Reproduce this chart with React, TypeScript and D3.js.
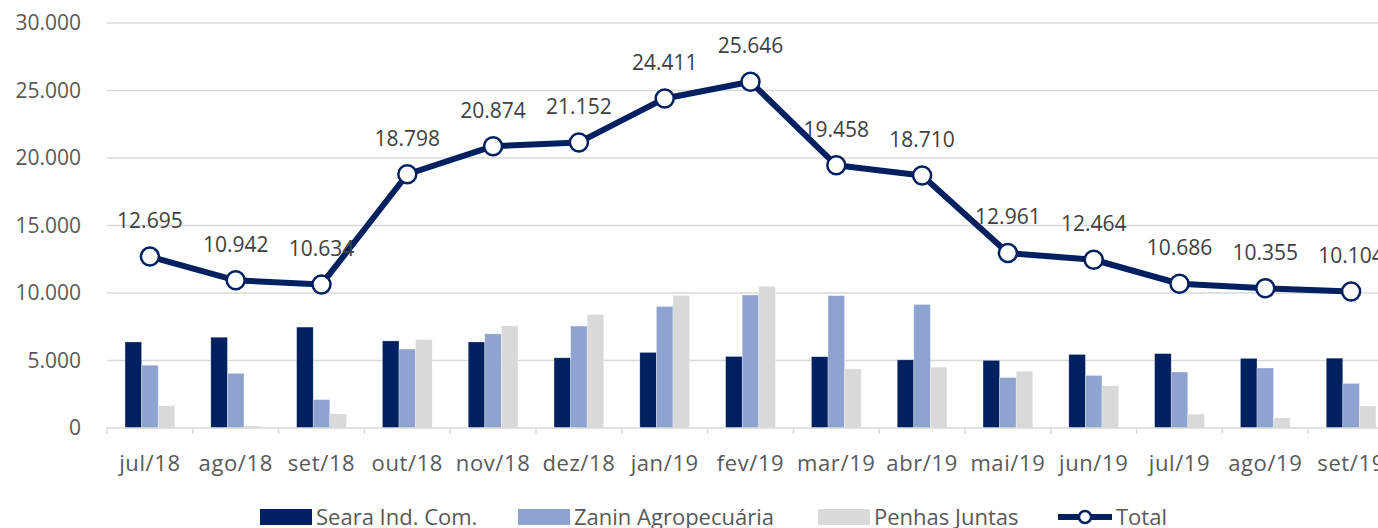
import React, { useRef, useEffect } from 'react'
import * as d3 from 'd3'

const months = ['jul/18', 'ago/18', 'set/18', 'out/18', 'nov/18', 'dez/18', 'jan/19', 'fev/19', 'mar/19', 'abr/19', 'mai/19', 'jun/19', 'jul/19', 'ago/19', 'set/19']
const seara = [6375, 6725, 7475, 6450, 6375, 5200, 5600, 5300, 5280, 5050, 5010, 5450, 5510, 5160, 5175]
const zanin = [4650, 4050, 2100, 5850, 6975, 7550, 9000, 9850, 9800, 9150, 3740, 3890, 4150, 4445, 3300]
const penhas = [1650, 150, 1050, 6550, 7575, 8400, 9811, 10496, 4378, 4510, 4211, 3124, 1026, 750, 1625]
const total = [12695, 10942, 10634, 18798, 20874, 21152, 24411, 25646, 19458, 18710, 12961, 12464, 10686, 10355, 10104]
const yTicks = [0, 5000, 10000, 15000, 20000, 25000, 30000]

const seriesNames = ['Seara Ind. Com.', 'Zanin Agropecuária', 'Penhas Juntas']
const colors = ['#00205F', '#8FA3D0', '#D9D9D9']
const lineColor = '#002060'
const textColor = '#595959'
const font = '"Open Sans", "Noto Sans", sans-serif'

export default function App() {
  const svgRef = useRef<SVGSVGElement>(null)

  useEffect(() => {
    if (!svgRef.current) return
    const svg = d3.select(svgRef.current)
    svg.selectAll('*').remove()

    const left = 107
    const right = 1394
    const top = 23
    const bottom = 428

    const locale = d3.formatLocale({ decimal: ',', thousands: '.', grouping: [3], currency: ['', ''] })
    const fmt = locale.format(',d')

    const x = d3.scaleBand().domain(months).range([left, right]).padding(0)
    const bw = x.bandwidth()
    const x1 = d3.scaleBand().domain(seriesNames).range([bw * 0.21, bw * 0.79]).padding(0)
    const y = d3.scaleLinear().domain([0, 30000]).range([bottom, top])

    // Grid
    svg.append('g')
      .selectAll('line')
      .data(yTicks.filter(t => t > 0))
      .join('line')
      .attr('x1', left).attr('x2', right)
      .attr('y1', d => y(d)).attr('y2', d => y(d))
      .attr('stroke', '#D9D9D9').attr('stroke-width', 1.5)

    // Y labels
    svg.append('g')
      .selectAll('text')
      .data(yTicks)
      .join('text')
      .attr('x', 81)
      .attr('y', d => y(d))
      .attr('dy', '0.35em')
      .attr('text-anchor', 'end')
      .attr('font-family', font).attr('font-size', 21).attr('fill', textColor)
      .text(d => fmt(d))

    // Bars
    const seriesData = [seara, zanin, penhas]
    seriesData.forEach((vals, si) => {
      svg.append('g')
        .selectAll('rect')
        .data(vals)
        .join('rect')
        .attr('x', (_, i) => x(months[i])! + x1(seriesNames[si])!)
        .attr('y', d => y(d))
        .attr('width', x1.bandwidth())
        .attr('height', d => y(0) - y(d))
        .attr('fill', colors[si])
        .attr('stroke', '#ffffff').attr('stroke-opacity', 0.5).attr('stroke-width', 0.6)
    })

    // X axis
    svg.append('line')
      .attr('x1', left).attr('x2', right)
      .attr('y1', y(0)).attr('y2', y(0))
      .attr('stroke', '#D9D9D9').attr('stroke-width', 1.5)
    svg.append('g')
      .selectAll('line')
      .data(d3.range(months.length + 1))
      .join('line')
      .attr('x1', i => left + i * bw).attr('x2', i => left + i * bw)
      .attr('y1', y(0)).attr('y2', y(0) + 6)
      .attr('stroke', '#D9D9D9').attr('stroke-width', 1.5)
    svg.append('g')
      .selectAll('text')
      .data(months)
      .join('text')
      .attr('x', d => x(d)! + bw / 2)
      .attr('y', 463)
      .attr('dy', '0.35em')
      .attr('text-anchor', 'middle')
      .attr('font-family', font).attr('font-size', 22).attr('letter-spacing', 0.6).attr('fill', textColor)
      .text(d => d)

    // Total line
    const cx = (i: number) => x(months[i])! + bw / 2
    const line = d3.line<number>().x((_, i) => cx(i)).y(d => y(d))
    svg.append('path')
      .datum(total)
      .attr('d', line)
      .attr('fill', 'none')
      .attr('stroke', lineColor)
      .attr('stroke-width', 6)
      .attr('stroke-linejoin', 'round')

    svg.append('g')
      .selectAll('circle')
      .data(total)
      .join('circle')
      .attr('cx', (_, i) => cx(i))
      .attr('cy', d => y(d))
      .attr('r', 9)
      .attr('fill', '#fff')
      .attr('stroke', lineColor)
      .attr('stroke-width', 2.5)

    svg.append('g')
      .selectAll('text')
      .data(total)
      .join('text')
      .attr('x', (_, i) => cx(i))
      .attr('y', d => y(d) - 36)
      .attr('dy', '0.35em')
      .attr('text-anchor', 'middle')
      .attr('font-family', font).attr('font-size', 21).attr('fill', '#404040')
      .text(d => fmt(d))

    // Legend
    const legY = 517
    const legItems = [
      { name: seriesNames[0], x: 260, color: colors[0] },
      { name: seriesNames[1], x: 518, color: colors[1] },
      { name: seriesNames[2], x: 818, color: colors[2] },
    ]
    legItems.forEach(it => {
      svg.append('rect')
        .attr('x', it.x).attr('y', legY - 8)
        .attr('width', 52).attr('height', 16)
        .attr('fill', it.color)
      svg.append('text')
        .attr('x', it.x + 56).attr('y', legY).attr('dy', '0.35em')
        .attr('font-family', font).attr('font-size', 22).attr('fill', textColor)
        .text(it.name)
    })
    svg.append('line')
      .attr('x1', 1058).attr('x2', 1112)
      .attr('y1', legY).attr('y2', legY)
      .attr('stroke', lineColor).attr('stroke-width', 6)
    svg.append('circle')
      .attr('cx', 1085).attr('cy', legY).attr('r', 6)
      .attr('fill', '#fff').attr('stroke', lineColor).attr('stroke-width', 2.5)
    svg.append('text')
      .attr('x', 1116).attr('y', legY).attr('dy', '0.35em')
      .attr('font-family', font).attr('font-size', 22).attr('fill', textColor)
      .text('Total')
  }, [])

  return (
    <svg
      ref={svgRef}
      width={1378}
      height={528}
      style={{ position: 'absolute', left: 0, top: 0, background: '#fff', overflow: 'hidden' }}
    />
  )
}
